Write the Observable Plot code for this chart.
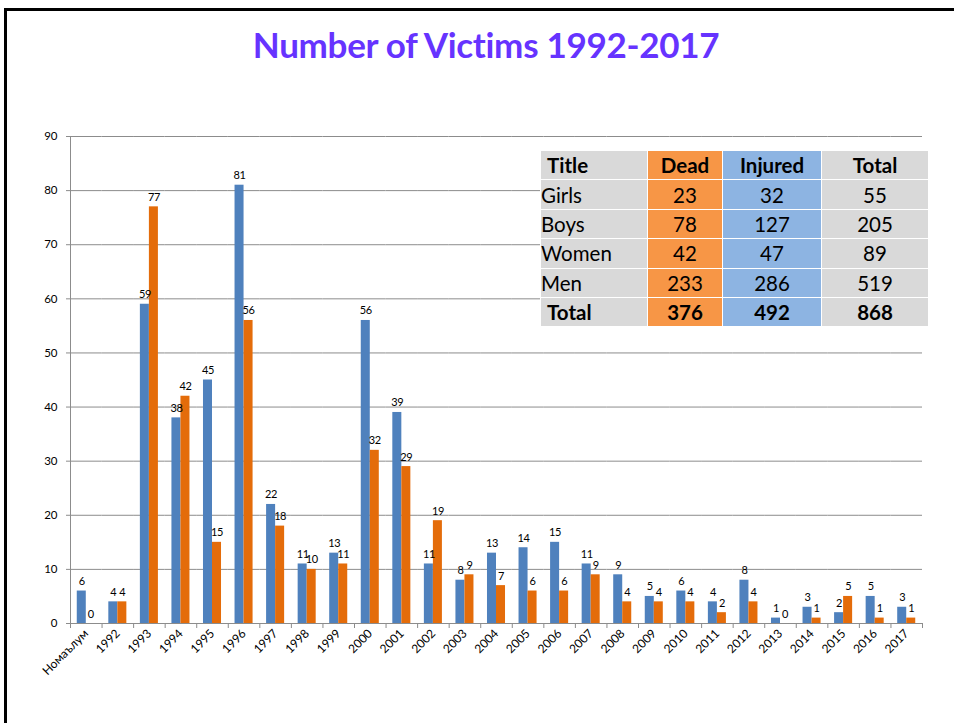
<!DOCTYPE html>
<html><head><meta charset="utf-8">
<script src="https://cdn.jsdelivr.net/npm/d3@7"></script>
<script src="https://cdn.jsdelivr.net/npm/@observablehq/plot@0.6"></script>
<style>
body{margin:0;background:#fff;font-family:Lato,"Open Sans",sans-serif}
#page{position:relative;width:954px;height:723px;overflow:hidden;background:#fff}
#frame{position:absolute;left:4px;top:8px;width:1000px;height:800px;border-top:3px solid #000;border-left:3px solid #000}
#title{position:absolute;top:21px;left:0;width:972px;text-align:center;color:#6633FF;font-weight:bold;font-size:35px;line-height:46px;letter-spacing:-0.3px}
#chart{position:absolute;left:0;top:100px}
#chart g[aria-label="text"] text{letter-spacing:-0.4px}
table{position:absolute;left:540px;top:150px;border-collapse:collapse;table-layout:fixed;font-size:20.5px;color:#000;font-family:Lato,sans-serif}
td{border:1px solid #fff;padding:0;height:28.4px;text-align:center;background:#D9D9D9;line-height:28px}
td.l{text-align:left}
td.d{background:#F79646}
td.i{background:#8DB4E2}
tr.h td, tr.t td{font-weight:bold}
</style></head>
<body><div id="page"><div id="frame"></div><div id="title">Number of Victims 1992-2017</div><div id="chart"></div><div id="tbl"></div></div>
<script>
const categories = ["Номаълум","1992","1993","1994","1995","1996","1997","1998","1999","2000","2001","2002","2003","2004","2005","2006","2007","2008","2009","2010","2011","2012","2013","2014","2015","2016","2017"];
const series = ["Injured","Dead"];
const injured = [6,4,59,38,45,81,22,11,13,56,39,11,8,13,14,15,11,9,5,6,4,8,1,3,2,5,3];
const dead = [0,4,77,42,15,56,18,10,11,32,29,19,9,7,6,6,9,4,4,4,2,4,0,1,5,1,1];
const yTicks = [0,10,20,30,40,50,60,70,80,90];

const tableHeader = ["Title","Dead","Injured","Total"];
const tableRows = ["Girls","Boys","Women","Men","Total"];
const tableDead = [23,78,42,233,376];
const tableInjured = [32,127,47,286,492];
const tableTotal = [55,205,89,519,868];

const rows = categories.flatMap((c,i)=>[
  {cat:c, series:"Injured", value:injured[i]},
  {cat:c, series:"Dead", value:dead[i]}
]);

const W=954,H=600,ml=70,mr=32,mt=36,mb=77;
const step=(W-ml-mr)/categories.length;
const gray="#8c8c8c";

const chart = Plot.plot({
  width:W,height:H,marginLeft:ml,marginRight:mr,marginTop:mt,marginBottom:mb,
  style:{fontFamily:"Lato, sans-serif",fontSize:"11px",color:"#000",background:"transparent",overflow:"visible"},
  fx:{domain:categories,padding:0,round:false,axis:null,label:null},
  x:{domain:series,paddingInner:0,paddingOuter:0.75,round:false,axis:null,label:null},
  y:{domain:[0,90],axis:null,label:null},
  color:{domain:series,range:["#4F81BD","#E46C0A"]},
  marks:[
    Plot.gridY({ticks:yTicks,stroke:gray,strokeOpacity:1}),
    Plot.axisY({ticks:yTicks,tickSize:4,tickPadding:9,stroke:gray,fill:"#000",fontSize:11.5,label:null}),
    Plot.frame({anchor:"left",facetAnchor:"left",stroke:gray}),
    Plot.ruleY([0],{stroke:gray}),
    Plot.barY(rows,{fx:"cat",x:"series",y:"value",fill:"series"}),
    Plot.text(rows,{fx:"cat",x:"series",y:"value",text:"value",lineAnchor:"bottom",dy:-6,fontSize:11,fill:"#000"}),
    Plot.axisFx({anchor:"bottom",tickSize:5,tickFormat:()=>"",dx:-step/2,stroke:gray,label:null}),
    Plot.axisFx({anchor:"bottom",ticks:[categories[categories.length-1]],tickSize:5,tickFormat:()=>"",dx:step/2,stroke:gray,label:null}),
    Plot.axisFx({anchor:"bottom",tickSize:0,tickRotate:-45,tickPadding:8,textAnchor:"end",fill:"#000",fontSize:12,label:null})
  ]
});
document.getElementById("chart").appendChild(chart);

const t=document.createElement("table");
const cg=document.createElement("colgroup");
[107,75,99,107].forEach(w=>{const c=document.createElement("col");c.style.width=w+"px";cg.appendChild(c);});
t.appendChild(cg);
const hr=document.createElement("tr");hr.className="h";
tableHeader.forEach((h,j)=>{const td=document.createElement("td");td.textContent=h;
  td.className=j===0?"l":j===1?"d":j===2?"i":"";if(j===0)td.style.paddingLeft="6px";hr.appendChild(td);});
t.appendChild(hr);
tableRows.forEach((r,i)=>{
  const tr=document.createElement("tr");if(i===tableRows.length-1)tr.className="t";
  [r,tableDead[i],tableInjured[i],tableTotal[i]].forEach((v,j)=>{
    const td=document.createElement("td");td.textContent=v;
    td.className=j===0?"l":j===1?"d":j===2?"i":"";
    if(j===0&&i===tableRows.length-1)td.style.paddingLeft="6px";
    tr.appendChild(td);});
  t.appendChild(tr);
});
document.getElementById("tbl").appendChild(t);
</script>
</body></html>
